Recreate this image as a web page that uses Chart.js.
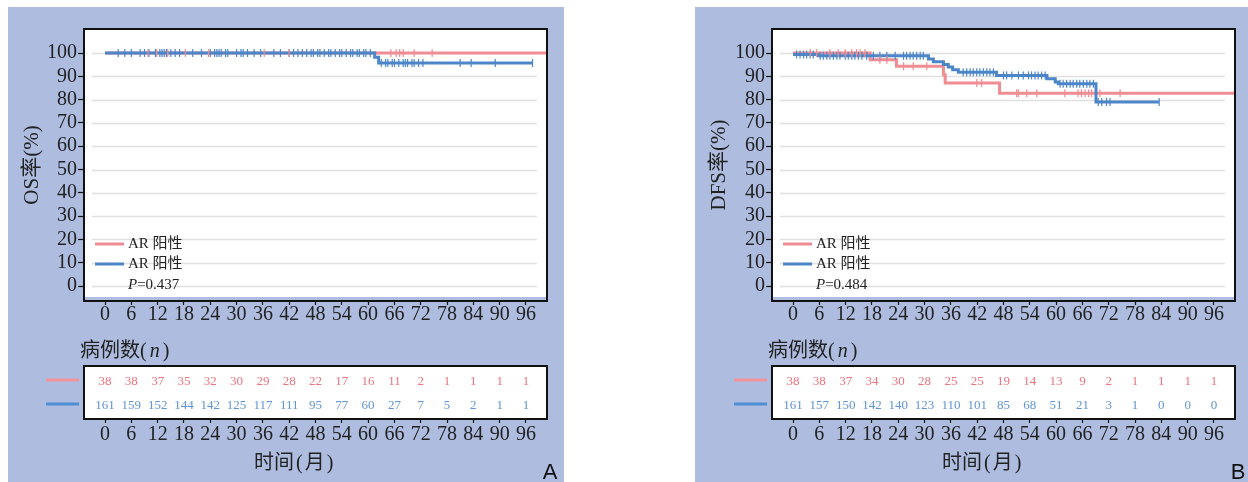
<!DOCTYPE html>
<html>
<head>
<meta charset="utf-8">
<script src="https://cdn.jsdelivr.net/npm/chart.js@4.4.1/dist/chart.umd.min.js"></script>
<style>
html, body { margin: 0; padding: 0; background: #fff; width: 1248px; height: 482px; overflow: hidden; }
.panel { position: absolute; top: 7px; height: 475px; background: #adbcdf; }
#panelA { left: 8px; width: 556px; }
#panelB { left: 695px; width: 553px; }
.panel canvas { position: absolute; left: 0; }
</style>
</head>
<body>
<div class="panel" id="panelA">
  <canvas id="kmA" width="556" height="325" style="top:0"></canvas>
  <canvas id="riskA" width="556" height="150" style="top:325px"></canvas>
</div>
<div class="panel" id="panelB">
  <canvas id="kmB" width="553" height="325" style="top:0"></canvas>
  <canvas id="riskB" width="553" height="150" style="top:325px"></canvas>
</div>
<script>
// shared axes
var monthTicks = [0, 6, 12, 18, 24, 30, 36, 42, 48, 54, 60, 66, 72, 78, 84, 90, 96];
var rateTicks = [0, 10, 20, 30, 40, 50, 60, 70, 80, 90, 100];
var seriesLabels = ['AR 阳性', 'AR 阳性'];
var redColor = '#ef8d93';
var blueColor = '#4c86c9';

// A: OS
var osRedTimes = [0, 102];
var osRedSurv = [100, 100];
var osRedCensor = [9.8, 11.8, 14.3, 18.3, 23.6, 36.3, 42, 65.2, 66.4, 67.2, 68, 70.5, 74.6];
var osBlueTimes = [0, 61.5, 62.4, 97.6];
var osBlueSurv = [100, 98.2, 95.7, 95.7];
var osBlueCensor = [3, 4.5, 6, 8, 9, 10, 11.5, 12.5, 13, 13.5, 14, 15, 16, 17, 20, 22, 24, 25, 25.5, 26, 26.5,
  27.5, 28, 30, 31, 31.5, 32.5, 34, 35.5, 38.5, 40, 42, 43, 44, 45, 46, 47, 47.5, 48.5, 49, 50, 51, 51.5,
  52.5, 53.5, 54, 55, 56, 56.5, 57.5, 58, 59, 59.5, 60.5, 63, 64, 64.5, 65.5, 66, 67, 68, 68.5, 69, 70,
  70.5, 71.5, 72.5, 81, 83.5, 89, 97.5];
var osRiskRed = [38, 38, 37, 35, 32, 30, 29, 28, 22, 17, 16, 11, 2, 1, 1, 1, 1];
var osRiskBlue = [161, 159, 152, 144, 142, 125, 117, 111, 95, 77, 60, 27, 7, 5, 2, 1, 1];
var osP = '0.437';

// B: DFS
var dfsRedTimes = [0, 17.6, 23.6, 34.3, 34.7, 47.1, 102];
var dfsRedSurv = [100, 97.1, 94.3, 90.7, 87.1, 82.7, 82.7];
var dfsRedCensor = [3.9, 5.4, 8.4, 10.3, 11.9, 13.4, 14.5, 15.3, 16.4, 19.8, 21.4, 25.2, 27.4, 30.5, 41.9, 43,
  51, 51.4, 53.3, 55.6, 62, 65, 65.8, 66.6, 67.4, 68.1, 70, 74.6];
var dfsBlueTimes = [0, 5.7, 30.9, 32, 34.3, 35.4, 36.4, 37.7, 46.4, 57.9, 59.8, 60.5, 69.1, 83.5];
var dfsBlueSurv = [99.4, 98.8, 97.4, 96.3, 95.1, 94.0, 92.8, 91.7, 90.4, 89.0, 87.6, 86.8, 79.0, 79.0];
var dfsBlueCensor = [0.8, 1.6, 2.4, 3.1, 3.9, 4.6, 6.2, 6.9, 7.7, 8.4, 9.2, 10, 10.7, 11.9, 12.6, 13.4, 14.1,
  14.9, 15.7, 16.8, 18.3, 19.8, 21.4, 23.3, 25.2, 25.9, 26.7, 27.4, 28.2, 29, 29.7, 38.8, 39.6, 40.4, 41.1,
  41.9, 42.6, 43.4, 44.2, 44.9, 45.7, 48, 48.7, 49.9, 51.4, 52.5, 53.7, 54.4, 55.2, 55.9, 56.7, 57.5, 60.9,
  61.6, 62.4, 63.2, 63.9, 64.7, 65.4, 66.2, 67, 67.7, 68.5, 69.6, 70.4, 71.5, 72.3, 83.5];
var dfsRiskRed = [38, 38, 37, 34, 30, 28, 25, 25, 19, 14, 13, 9, 2, 1, 1, 1, 1];
var dfsRiskBlue = [161, 157, 150, 142, 140, 123, 110, 101, 85, 68, 51, 21, 3, 1, 0, 0, 0];
var dfsP = '0.484';

var SERIF = "'Liberation Serif', 'Noto Sans CJK SC', serif";
var INK = '#222';

function survAt(times, surv, t) {
  var v = surv[0];
  for (var i = 0; i < times.length; i++) if (times[i] <= t) v = surv[i];
  return v;
}

// draws pieces of text left to right, some in italic, with small gaps
function drawPieces(ctx, pieces, x, y, size, gap) {
  pieces.forEach(function (p) {
    ctx.font = (p.italic ? 'italic ' : '') + size + 'px ' + SERIF;
    ctx.fillText(p.text, x, y);
    x += ctx.measureText(p.text).width + gap;
  });
}

var kmFrame = {
  id: 'kmFrame',
  beforeDraw: function (chart) {
    var ctx = chart.ctx, a = chart.chartArea;
    ctx.save();
    ctx.fillStyle = '#fff';
    ctx.fillRect(a.left, a.top, a.right - a.left, a.bottom - a.top - 4);
    ctx.restore();
  },
  beforeDatasetsDraw: function (chart) {
    var ctx = chart.ctx, a = chart.chartArea, y = chart.scales.y;
    ctx.save();
    ctx.strokeStyle = '#e0e0e0';
    ctx.lineWidth = 1.5;
    rateTicks.forEach(function (v) {
      var py = Math.round(y.getPixelForValue(v)) + 0.5;
      ctx.beginPath();
      ctx.moveTo(a.left + 8, py);
      ctx.lineTo(a.right - 10, py);
      ctx.stroke();
    });
    ctx.restore();
  },
  afterDraw: function (chart, args, opts) {
    var ctx = chart.ctx, a = chart.chartArea;
    ctx.save();
    // legend
    var rows = [a.bottom - 57, a.bottom - 37];
    ctx.textBaseline = 'middle';
    [redColor, blueColor].forEach(function (c, i) {
      ctx.strokeStyle = c;
      ctx.lineWidth = 3;
      ctx.beginPath();
      ctx.moveTo(a.left + 11, rows[i]);
      ctx.lineTo(a.left + 40, rows[i]);
      ctx.stroke();
      ctx.fillStyle = INK;
      ctx.font = '15px ' + SERIF;
      ctx.fillText(seriesLabels[i], a.left + 44, rows[i]);
    });
    ctx.fillStyle = INK;
    drawPieces(ctx, [{ text: 'P', italic: true }, { text: '=' + opts.p }], a.left + 44, a.bottom - 16, 15, 0);
    // frame
    ctx.strokeStyle = '#111';
    ctx.lineWidth = 2;
    ctx.strokeRect(a.left, a.top, a.right - a.left, a.bottom - a.top);
    ctx.restore();
  }
};

var riskTable = {
  id: 'riskTable',
  beforeDraw: function (chart) {
    var ctx = chart.ctx, a = chart.chartArea;
    ctx.save();
    ctx.fillStyle = '#fff';
    ctx.fillRect(a.left, a.top, a.right - a.left, a.bottom - a.top);
    ctx.restore();
  },
  afterDraw: function (chart, args, opts) {
    var ctx = chart.ctx, a = chart.chartArea, xs = chart.scales.x, ys = chart.scales.y;
    ctx.save();
    ctx.strokeStyle = '#111';
    ctx.lineWidth = 2;
    ctx.strokeRect(a.left, a.top, a.right - a.left, a.bottom - a.top);
    ctx.textAlign = 'center';
    ctx.textBaseline = 'middle';
    ctx.font = '13px ' + SERIF;
    var rows = [{ vals: opts.red, color: '#ec737d', y: ys.getPixelForValue(2), line: '#f1959b' },
                { vals: opts.blue, color: '#5f95d6', y: ys.getPixelForValue(1), line: '#4f8fd6' }];
    rows.forEach(function (r) {
      ctx.fillStyle = r.color;
      monthTicks.forEach(function (t, i) {
        ctx.fillText(String(r.vals[i]), xs.getPixelForValue(t), r.y + 1);
      });
      ctx.strokeStyle = r.line;
      ctx.lineWidth = 3;
      ctx.beginPath();
      ctx.moveTo(a.left - 38, r.y - 1);
      ctx.lineTo(a.left - 5, r.y - 1);
      ctx.stroke();
    });
    // headings
    ctx.fillStyle = INK;
    ctx.textAlign = 'left';
    drawPieces(ctx, [{ text: '病例数(' }, { text: 'n', italic: true }, { text: ')' }], a.left - 4, 20, 20, 3);
    drawPieces(ctx, [{ text: '时间' }, { text: '(' }, { text: '月' }, { text: ')' }], a.left + 170, 132, 20, 2);

    ctx.textAlign = 'center';
    ctx.font = '22px "Liberation Sans", Arial, sans-serif';
    ctx.textBaseline = 'alphabetic';
    ctx.fillStyle = '#111';
    ctx.fillText(opts.letter, a.right + 3, 147);
    ctx.restore();
  }
};

function useTicks(list) {
  return function (scale) {
    scale.ticks = list.map(function (v) { return { value: v }; });
  };
}

function xAxis(height, padding) {
  return {
    type: 'linear',
    min: -4.8,
    max: 100.8,
    afterBuildTicks: useTicks(monthTicks),
    afterFit: function (s) { s.height = height; },
    ticks: { autoSkip: false, maxRotation: 0, padding: padding, color: INK, font: { family: SERIF, size: 20, lineHeight: 1 } },
    grid: { drawOnChartArea: false, tickLength: 4, tickColor: '#111', tickWidth: 1.2 },
    border: { display: false }
  };
}

function makePanel(ids, curves, yTitle, p, risk, axisWidth, rightPad, letter) {
  var datasets = [];
  curves.forEach(function (c) {
    datasets.push({
      label: c.label,
      data: c.times.map(function (t, i) { return { x: t, y: c.surv[i] }; }),
      borderColor: c.color,
      borderWidth: 3,
      stepped: true,
      pointRadius: 0,
      fill: false,
      order: c.order
    });
    datasets.push({
      label: c.label + ' censored',
      data: c.censor.map(function (t) { return { x: t, y: survAt(c.times, c.surv, t) }; }),
      showLine: false,
      pointStyle: 'line',
      pointRotation: 90,
      pointRadius: 4,
      pointBorderWidth: 1.2,
      pointBorderColor: c.color,
      borderColor: c.color,
      order: 0
    });
  });

  new Chart(document.getElementById(ids[0]), {
    type: 'line',
    data: { datasets: datasets },
    options: {
      responsive: false,
      animation: false,
      events: [],
      layout: { padding: { left: 0, top: 22, right: rightPad, bottom: 0 } },
      plugins: { legend: { display: false }, tooltip: { enabled: false }, kmFrame: { p: p } },
      scales: {
        x: xAxis(31, 0),
        y: {
          type: 'linear',
          min: -6.4,
          max: 110.3,
          afterBuildTicks: useTicks(rateTicks),
          afterFit: function (s) { s.width = axisWidth; },
          title: { display: true, text: yTitle, color: INK, font: { family: SERIF, size: 21, lineHeight: 1 }, padding: { top: 14, bottom: 0 } },
          ticks: { padding: 1, color: INK, font: { family: SERIF, size: 20, lineHeight: 1 } },
          grid: { drawOnChartArea: false, tickLength: 6, tickColor: '#111', tickWidth: 1.2 },
          border: { display: false }
        }
      }
    },
    plugins: [kmFrame]
  });

  new Chart(document.getElementById(ids[1]), {
    type: 'line',
    data: { datasets: [] },
    options: {
      responsive: false,
      animation: false,
      events: [],
      layout: { padding: { left: axisWidth, top: 34, right: rightPad, bottom: 0 } },
      plugins: { legend: { display: false }, tooltip: { enabled: false },
        riskTable: { red: risk[0], blue: risk[1], letter: letter } },
      scales: {
        x: xAxis(63, 2),
        y: { type: 'linear', min: 0.42, max: 2.62, display: false }
      }
    },
    plugins: [riskTable]
  });
}

makePanel(['kmA', 'riskA'], [
  { label: seriesLabels[0], times: osRedTimes, surv: osRedSurv, censor: osRedCensor, color: redColor, order: 2 },
  { label: seriesLabels[1], times: osBlueTimes, surv: osBlueSurv, censor: osBlueCensor, color: blueColor, order: 1 }
], 'OS率(%)', osP, [osRiskRed, osRiskBlue], 76, 17, 'A');

makePanel(['kmB', 'riskB'], [
  { label: seriesLabels[0], times: dfsRedTimes, surv: dfsRedSurv, censor: dfsRedCensor, color: redColor, order: 2 },
  { label: seriesLabels[1], times: dfsBlueTimes, surv: dfsBlueSurv, censor: dfsBlueCensor, color: blueColor, order: 1 }
], 'DFS率(%)', dfsP, [dfsRiskRed, dfsRiskBlue], 77, 13, 'B');
</script>
</body>
</html>
